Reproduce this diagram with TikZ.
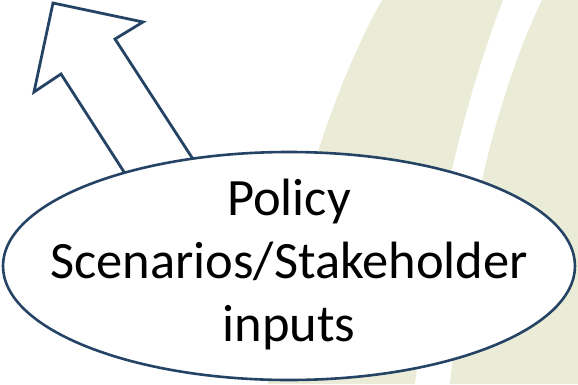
\documentclass[tikz,border=0pt]{standalone}
\usepackage{fontspec}
\setmainfont{Carlito}
\definecolor{bandbeige}{RGB}{235,236,215}
\definecolor{randblau}{RGB}{37,67,101}
\tikzset{
  band/.style={fill=bandbeige, draw=none},
  blockpfeil/.style={draw=randblau, line width=2.8pt, fill=white, line join=miter},
  eingaberand/.style={draw=randblau, line width=2.6pt, fill=white},
  eingabe/.style={inner sep=0pt, align=center, font=\fontsize{52.5}{63}\selectfont}
}
\begin{document}
\begin{tikzpicture}[x=1pt,y=-1pt]
    \useasboundingbox (0,0) rectangle (578,384);

    % Hintergrund: helle Baender rechts
    \fill[band] (382,0) .. controls (334,85) and (285,230) .. (268,384) -- (415,384)
        .. controls (433,235) and (462,107) .. (503,0) -- cycle;
    \fill[band] (542,0) .. controls (497,94) and (466,222) .. (450,384)
        -- (578,384) -- (578,0) -- cycle;

    % Blockpfeil (Fuss liegt unter der Ellipse)
    \coordinate (fussLinks) at (135,189);
    \coordinate (fussRechts) at (202,173);
    \draw[blockpfeil] (fussLinks) -- (61,74) -- (34,92) -- (53,3) -- (143,22) -- (115,39) -- (fussRechts);

    % Ellipse mit Text
    \draw[eingaberand] (289,266) ellipse [x radius=286, y radius=114];
    \node[eingabe] (eingaben) at (289,264) {Policy\\Scenarios/Stakeholder\\inputs};
\end{tikzpicture}
\end{document}
